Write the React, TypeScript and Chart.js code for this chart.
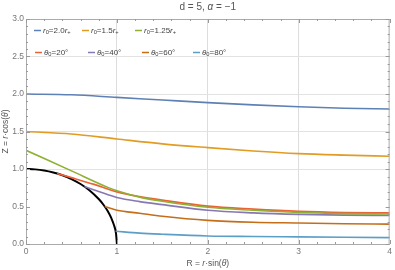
import React, { useEffect, useRef } from 'react';
import { Chart, registerables } from 'chart.js';
Chart.register(...registerables);

const TITLE = 'd = 5, α = −1';
const X_LABEL = 'R = r·sin(θ)';
const Y_LABEL = 'Z = r·cos(θ)';
const X_MIN = 0, X_MAX = 4, Y_MIN = 0, Y_MAX = 3;
const X_GRID = [1, 2, 3];
const Y_GRID = [1, 1.5, 2, 2.5];

const SERIES_LABELS = ['r₀=2.0r₊', 'r₀=1.5r₊', 'r₀=1.25r₊', 'θ₀=20°', 'θ₀=40°', 'θ₀=60°', 'θ₀=80°'];
const COLORS = ['#5E81B5', '#E19C24', '#8FB032', '#EB6235', '#8778B3', '#C56E1A', '#5D9EC7'];

const r20X = [0, 0.5, 1, 1.5, 2, 2.5, 3, 3.5, 4];
const r20Y = [2.0, 1.99, 1.955, 1.92, 1.885, 1.855, 1.83, 1.81, 1.80];
const r15X = [0, 0.5, 1, 1.5, 2, 2.5, 3, 3.5, 4];
const r15Y = [1.5, 1.467, 1.40, 1.335, 1.285, 1.24, 1.205, 1.185, 1.17];
const r125X = [0, 0.5, 0.9, 1, 1.25, 1.5, 2, 2.5, 3, 3.5, 4];
const r125Y = [1.25, 0.975, 0.755, 0.71, 0.625, 0.57, 0.49, 0.45, 0.42, 0.405, 0.40];
const t20X = [0.342, 0.5, 0.75, 1, 1.25, 1.5, 2, 2.5, 3, 3.5, 4];
const t20Y = [0.94, 0.885, 0.795, 0.695, 0.632, 0.585, 0.505, 0.465, 0.435, 0.42, 0.415];
const t40X = [0.643, 0.8, 1, 1.25, 1.5, 2, 2.5, 3, 3.5, 4];
const t40Y = [0.766, 0.70, 0.62, 0.565, 0.525, 0.45, 0.415, 0.395, 0.385, 0.38];
const t60X = [0.866, 1, 1.25, 1.5, 2, 2.5, 3, 3.5, 4];
const t60Y = [0.5, 0.45, 0.41, 0.37, 0.315, 0.29, 0.28, 0.27, 0.265];
const t80X = [0.985, 1.25, 1.5, 2, 2.5, 3, 3.5, 4];
const t80Y = [0.17, 0.145, 0.13, 0.107, 0.1, 0.095, 0.09, 0.085];

const circleX = [0, 0.1, 0.2, 0.3, 0.4, 0.5, 0.6, 0.7, 0.8, 0.85, 0.9, 0.94, 0.97, 0.99, 1];
const circleY = [1, 0.995, 0.98, 0.954, 0.917, 0.866, 0.8, 0.714, 0.6, 0.527, 0.436, 0.341, 0.243, 0.141, 0];

const SERIES_X = [r20X, r15X, r125X, t20X, t40X, t60X, t80X];
const SERIES_Y = [r20Y, r15Y, r125Y, t20Y, t40Y, t60Y, t80Y];

const FONT = "'Liberation Sans', Arial, sans-serif";
const SUBS: Record<string, string> = { '₀': '0', '₊': '+' };
const ITALIC = 'rθα';

function segs(s: string) {
  return Array.from(s).map((ch) => ({
    t: SUBS[ch] ?? ch,
    sub: ch in SUBS,
    it: ITALIC.includes(ch),
  }));
}
function fontFor(sg: any, size: number) {
  const sz = sg.sub ? size * 0.72 : size;
  return `${sg.it ? 'italic ' : ''}${sz}px ${FONT}`;
}
function richWidth(ctx: CanvasRenderingContext2D, s: string, size: number) {
  let w = 0;
  for (const sg of segs(s)) {
    ctx.font = fontFor(sg, size);
    w += ctx.measureText(sg.t).width;
  }
  return w;
}
function drawRich(ctx: CanvasRenderingContext2D, s: string, x: number, y: number, size: number, color: string) {
  ctx.fillStyle = color;
  ctx.textBaseline = 'middle';
  ctx.textAlign = 'left';
  let cx = x;
  for (const sg of segs(s)) {
    ctx.font = fontFor(sg, size);
    ctx.fillText(sg.t, cx, y + (sg.sub ? size * 0.28 : 0));
    cx += ctx.measureText(sg.t).width;
  }
}

const LEGEND_POS = [
  [34, 30.5], [82, 30.5], [135, 30.5],
  [35, 52.5], [88, 52.5], [142, 52.5], [193, 52.5],
];

const decor = {
  id: 'decor',
  afterDraw(chart: any) {
    const ctx: CanvasRenderingContext2D = chart.ctx;
    const { left, right, top, bottom } = chart.chartArea;
    const xs = chart.scales.x, ys = chart.scales.y;
    ctx.save();
    // frame
    ctx.strokeStyle = '#aaaaaa';
    ctx.lineWidth = 1;
    ctx.strokeRect(left + 0.5, top + 0.5, right - left - 1, bottom - top);
    // ticks
    ctx.strokeStyle = '#999999';
    ctx.beginPath();
    for (let i = 0; i <= 20; i++) {
      const v = i * 0.2;
      const px = Math.round(xs.getPixelForValue(v)) + 0.5;
      const len = i % 5 === 0 ? 4 : 2;
      ctx.moveTo(px, bottom); ctx.lineTo(px, bottom - len);
      ctx.moveTo(px, top); ctx.lineTo(px, top + len);
    }
    for (let i = 0; i <= 30; i++) {
      const v = i * 0.1;
      const py = Math.round(ys.getPixelForValue(v)) + 0.5;
      const len = i % 5 === 0 ? 4 : 2;
      ctx.moveTo(left, py); ctx.lineTo(left + len, py);
      ctx.moveTo(right, py); ctx.lineTo(right - len, py);
    }
    ctx.stroke();
    // legend
    SERIES_LABELS.forEach((lab, i) => {
      const [lx, ly] = LEGEND_POS[i];
      ctx.strokeStyle = COLORS[i];
      ctx.lineWidth = 1.5;
      ctx.beginPath();
      ctx.moveTo(lx, ly); ctx.lineTo(lx + 7, ly);
      ctx.stroke();
      drawRich(ctx, lab, lx + 9, ly, 8, '#444444');
    });
    // title
    const cxm = (left + right) / 2;
    const tw = richWidth(ctx, TITLE, 10);
    drawRich(ctx, TITLE, cxm - tw / 2, 7, 10, '#555555');
    // x label
    const xw = richWidth(ctx, X_LABEL, 8.5);
    drawRich(ctx, X_LABEL, cxm - xw / 2, 264, 8.5, '#555555');
    // y label
    const yw = richWidth(ctx, Y_LABEL, 8.5);
    ctx.translate(6, (top + bottom) / 2);
    ctx.rotate(-Math.PI / 2);
    drawRich(ctx, Y_LABEL, -yw / 2, 0, 8.5, '#555555');
    ctx.restore();
  },
};

export default function App() {
  const ref = useRef<HTMLCanvasElement | null>(null);
  useEffect(() => {
    document.body.style.margin = '0';
    const datasets: any[] = SERIES_LABELS.map((lab, i) => ({
      label: lab,
      data: SERIES_X[i].map((x, j) => ({ x, y: SERIES_Y[i][j] })),
      borderColor: COLORS[i],
      borderWidth: 1.6,
      pointRadius: 0,
      showLine: true,
      fill: false,
      cubicInterpolationMode: 'monotone',
    }));
    datasets.push({
      label: 'circle',
      data: circleX.map((x, j) => ({ x, y: circleY[j] })),
      borderColor: '#000000',
      borderWidth: 2,
      pointRadius: 0,
      showLine: true,
      fill: false,
      cubicInterpolationMode: 'monotone',
    });
    const chart = new Chart(ref.current!, {
      type: 'scatter',
      data: { datasets },
      options: {
        responsive: false,
        animation: false,
        layout: { padding: { top: 19, right: 3, left: 0, bottom: 0 } },
        plugins: { legend: { display: false }, tooltip: { enabled: false }, title: { display: false } },
        scales: {
          x: {
            type: 'linear', min: X_MIN, max: X_MAX,
            afterFit: (s: any) => { s.height = 26; },
            border: { display: false },
            grid: {
              drawTicks: false,
              color: (c: any) => (X_GRID.includes(c.tick?.value) ? '#dddddd' : 'rgba(0,0,0,0)'),
              lineWidth: 1,
            },
            ticks: {
              stepSize: 1, padding: 3, color: '#777777',
              font: { family: FONT, size: 8.5 },
              maxRotation: 0,
              callback: (v: any) => String(v),
            },
          },
          y: {
            type: 'linear', min: Y_MIN, max: Y_MAX,
            afterFit: (s: any) => { s.width = 26; },
            border: { display: false },
            grid: {
              drawTicks: false,
              color: (c: any) => (Y_GRID.includes(c.tick?.value) ? '#e2e2e2' : 'rgba(0,0,0,0)'),
              lineWidth: 1,
            },
            ticks: {
              stepSize: 0.5, padding: 2, color: '#777777',
              font: { family: FONT, size: 8.5 },
              callback: (v: any) => Number(v).toFixed(1),
            },
          },
        },
      },
      plugins: [decor],
    });
    return () => chart.destroy();
  }, []);
  return <canvas ref={ref} width={395} height={270} style={{ display: 'block' }} />;
}
